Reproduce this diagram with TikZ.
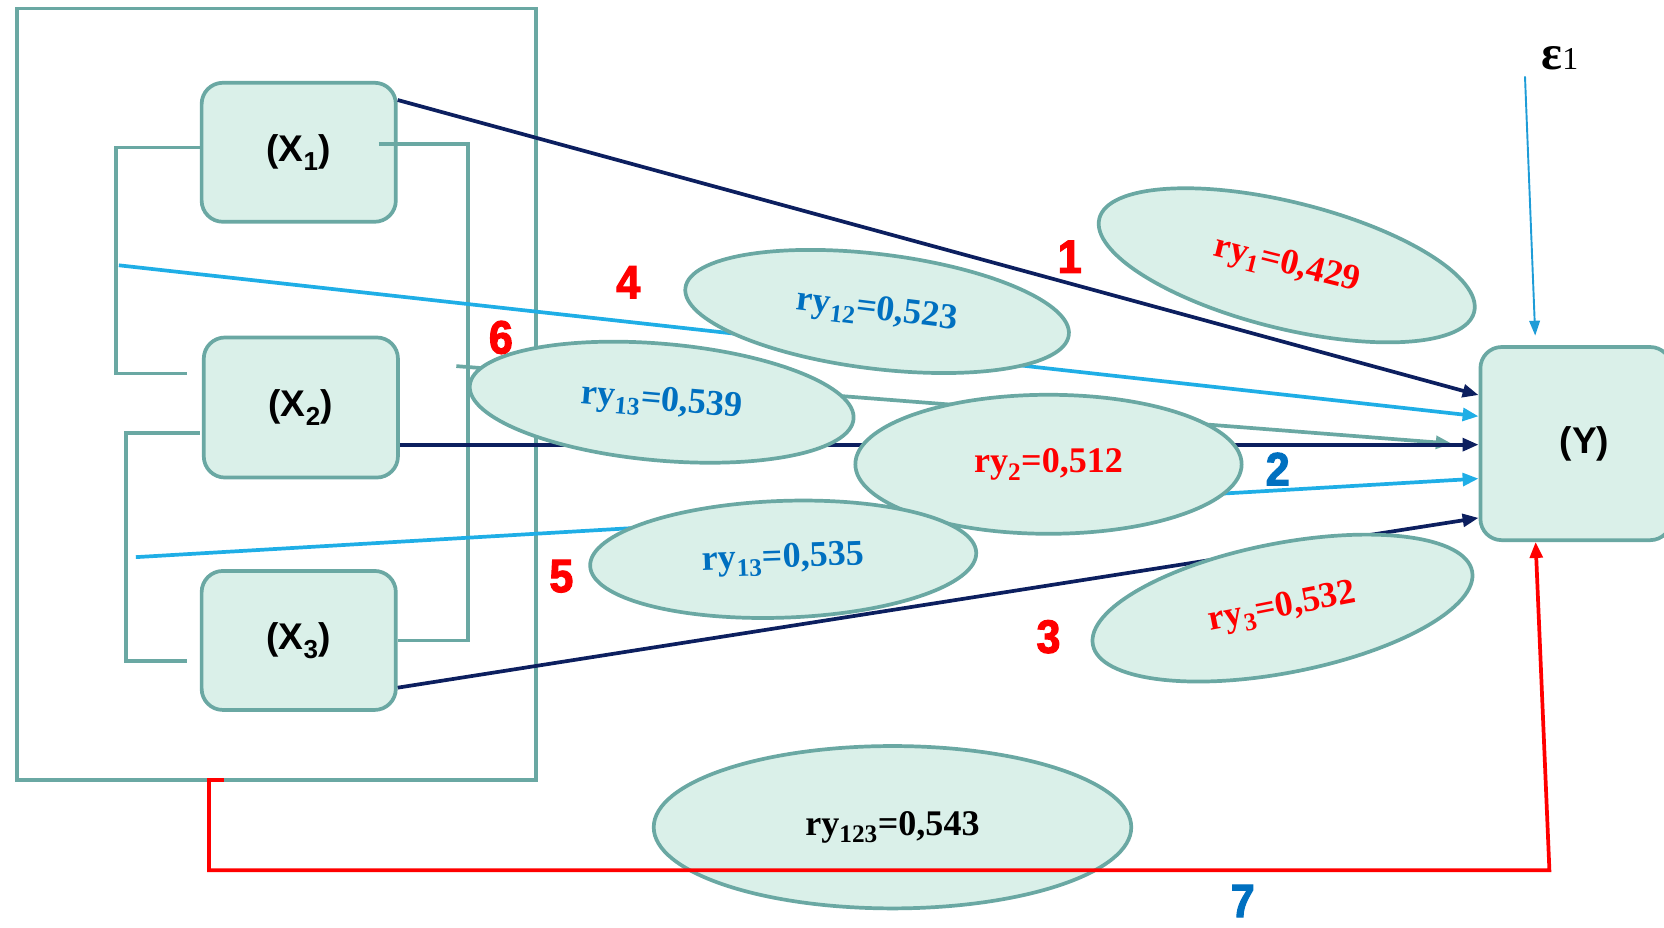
\documentclass[tikz,border=0pt]{standalone}
\usepackage{fontspec}
\setmainfont{Liberation Sans}
\newfontfamily\serifnum{Liberation Serif}
\newfontfamily\heavyfont[FakeBold=2.5,FakeStretch=0.92]{Liberation Sans Bold}
\usetikzlibrary{shapes.geometric,arrows.meta}

\definecolor{tealline}{RGB}{106,168,163}
\definecolor{mint}{RGB}{218,240,233}
\definecolor{navy}{RGB}{12,31,95}
\definecolor{skyblue}{RGB}{31,174,230}
\definecolor{textblue}{RGB}{0,112,192}
\definecolor{epsblue}{RGB}{30,156,215}

\begin{document}
\begin{tikzpicture}[x=1pt, y=-1pt, >={Triangle[length=15pt,width=12pt]},
    varbox/.style={draw=tealline, fill=mint, line width=3.5pt, rounded corners=20pt, minimum width=183pt, minimum height=131pt, font=\fontsize{35}{38}\selectfont\bfseries},
    corr/.style={ellipse, draw=tealline, fill=mint, line width=3.5pt, inner sep=0pt, font=\serifnum\fontsize{34}{36}\selectfont\bfseries},
    pathno/.style={font=\heavyfont\fontsize{44}{48}\selectfont},
    link/.style={draw=tealline, line width=3.5pt},
    arrline/.style={line width=3.5pt, ->}]
    \useasboundingbox (0,0) rectangle (1568,874);
    \clip (0,0) rectangle (1568,874);

    \draw[link] (16,8) rectangle (505,735);
    \node[varbox] (X1) at (281.5,143.5) {(X\textsubscript{1})};
    \node[varbox, minimum height=132pt] (X2) at (283.5,384) {(X\textsubscript{2})};
    \node[varbox] (X3) at (281.5,603.5) {(X\textsubscript{3})};
    \node[varbox, minimum width=180pt, minimum height=182pt] (Y) at (1485,418) {\hspace*{16pt}(Y)};

    \draw[link] (190,139) -| (109,352) -- (176,352);
    \draw[link] (188,408) -| (119,623) -- (176,623);
    \draw[link] (357,136) -| (441,400) |- (X3.east);

    \coordinate (s4) at (112,250);
    \coordinate (s5) at (128,525);
    \coordinate (s6) at (430,345);
    \coordinate (e6) at (1368,418);
    \coordinate (s7) at (211,735);
    \coordinate (se) at (1437,72);

    \draw[arrline, navy] ([yshift=-18pt]X1.north east) -- ([yshift=-47pt]Y.north west);
    \draw[arrline, skyblue] (s4) -- ([yshift=-67pt]Y.north west);
    \draw[arrline, tealline] (s6) -- (e6);
    \draw[arrline, navy] ([yshift=-35pt]X2.east) -- ([yshift=-1pt]Y.west);
    \draw[arrline, skyblue] (s5) -- ([yshift=-33pt]Y.west);
    \draw[arrline, navy] ([yshift=-44.5pt]X3.east) -- ([yshift=-70pt]Y.west);

    \node[corr, minimum width=364pt, minimum height=119pt, rotate=-14, text=red] (r1) at (1212.5,250) {ry\textsubscript{1}=0,429};
    \node[corr, minimum width=364pt, minimum height=108pt, rotate=-7, text=textblue] (r12) at (826.5,293.5) {ry\textsubscript{12}=0,523};
    \node[corr, minimum width=363pt, minimum height=110pt, rotate=-5, text=textblue] (r13) at (623.5,379) {ry\textsubscript{13}=0,539};
    \node[corr, minimum width=364pt, minimum height=131pt, text=red] (r2) at (988,437.5) {ry\textsubscript{2}=0,512};
    \node[corr, minimum width=364pt, minimum height=110pt, rotate=2, text=textblue] (r13b) at (738,527) {ry\textsubscript{13}=0,535};
    \node[corr, minimum width=364pt, minimum height=122pt, rotate=11, text=red] (r3) at (1208.5,573) {ry\textsubscript{3}=0,532};
    \node[corr, minimum width=450pt, minimum height=153pt] (r123) at (841,779.5) {ry\textsubscript{123}=0,543};

    \draw[arrline, red] (s7) -- (197,735) -- (197,820) -- (1460,820) -- ([xshift=-38pt]Y.south);
    \draw[epsblue, line width=1.8pt, -{Triangle[length=14pt,width=10pt]}, shorten >=9pt] (se) -- ([xshift=-38pt]Y.north);

    \node[pathno, text=red] (n1) at (1008,242) {1};
    \node[pathno, text=textblue] (n2) at (1204,442) {2};
    \node[pathno, text=red] (n3) at (988,600) {3};
    \node[pathno, text=red] (n4) at (592,266) {4};
    \node[pathno, text=red] (n5) at (529,543) {5};
    \node[pathno, text=red] (n6) at (472,318) {6};
    \node[pathno, text=textblue] (n7) at (1171,849) {7};
    \node[font=\serifnum] (eps) at (1470,55) {{\fontsize{46}{48}\selectfont\bfseries ε}{\fontsize{30}{32}\selectfont 1}};
  \end{tikzpicture}
\end{document}
